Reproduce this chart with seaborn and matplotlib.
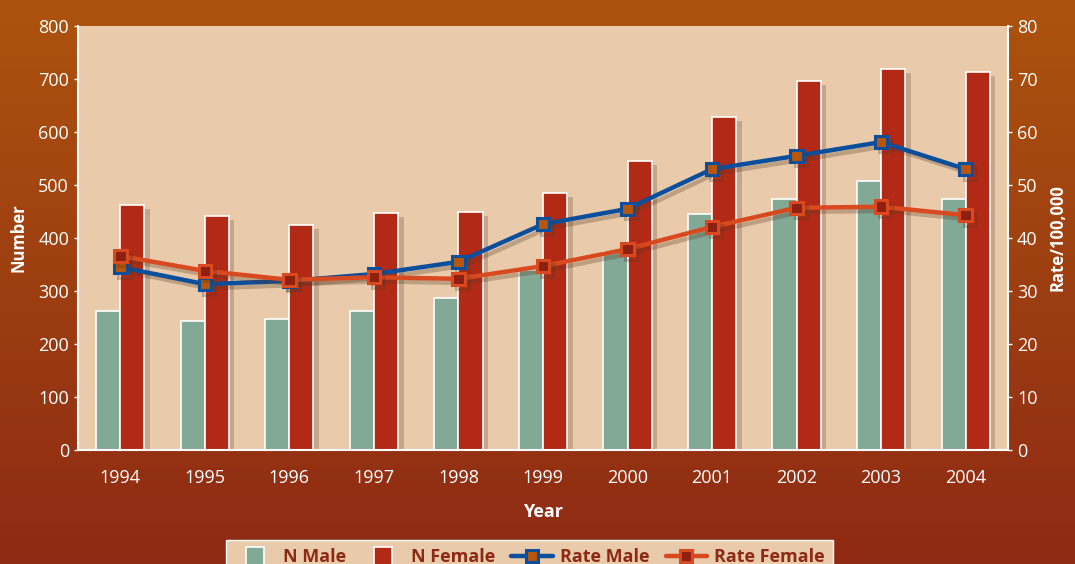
import numpy as np
import pandas as pd
import matplotlib.pyplot as plt
import matplotlib.patheffects as pe
from matplotlib.lines import Line2D
import seaborn as sns

YEARS = ["1994", "1995", "1996", "1997", "1998", "1999", "2000", "2001", "2002", "2003", "2004"]
N_MALE = [262, 243, 247, 262, 287, 340, 374, 445, 474, 508, 474]
N_FEMALE = [462, 441, 425, 447, 450, 485, 545, 628, 696, 719, 713]
RATE_MALE = [34.5, 31.3, 31.9, 33.2, 35.5, 42.6, 45.5, 53.0, 55.5, 58.1, 53.0]
RATE_FEMALE = [36.6, 33.8, 32.1, 32.6, 32.3, 34.7, 37.9, 42.1, 45.7, 45.9, 44.3]

MALE_BAR = "#82A896"
FEMALE_BAR = "#B22A16"
BLUE = "#0A4E9C"
ORANGE = "#D8491F"
PLOT_BG = "#E9CBAB"
TEXT_RED = "#8E2A14"

sns.set_theme(style="white")
plt.rcParams["font.family"] = ["Open Sans", "DejaVu Sans"]

fig = plt.figure(figsize=(10.75, 5.64), dpi=100)

# gradient background
bg = fig.add_axes([0, 0, 1, 1], zorder=-10)
grad = np.linspace(0, 1, 256).reshape(-1, 1)
top = np.array([0xAD, 0x53, 0x0E]) / 255
bot = np.array([0x8E, 0x2A, 0x14]) / 255
img = top[None, None, :] * (1 - grad[..., None]) + bot[None, None, :] * grad[..., None]
bg.imshow(img, aspect="auto", extent=[0, 1, 0, 1])
bg.axis("off")

ax = fig.add_axes([0.0726, 0.2021, 0.865, 0.7518])
ax.set_facecolor(PLOT_BG)

df = pd.DataFrame({
    "year": YEARS * 2,
    "n": N_MALE + N_FEMALE,
    "group": ["N Male"] * len(YEARS) + ["N Female"] * len(YEARS),
})
sns.barplot(data=df, x="year", y="n", hue="group", ax=ax, width=0.57,
            palette={"N Male": MALE_BAR, "N Female": FEMALE_BAR},
            edgecolor="white", linewidth=1.2, saturation=1, legend=False)
for p in ax.patches:
    p.set_path_effects([pe.SimplePatchShadow(offset=(4, -3), shadow_rgbFace="#5a3a20", alpha=0.25),
                        pe.Normal()])

ax.set_ylim(0, 800)
ax.set_xlim(-0.5, len(YEARS) - 0.5)
ax.set_yticks(range(0, 801, 100))
ax.set_xlabel("Year", color="white", fontsize=13, fontweight="bold", labelpad=11)
ax.set_ylabel("Number", color="white", fontsize=12, fontweight="bold", labelpad=8)
ax.tick_params(axis="both", colors="white", labelsize=13, length=3, width=1)
ax.tick_params(axis="x", length=0, pad=14)
for side in ["left", "bottom"]:
    ax.spines[side].set_color("white")
    ax.spines[side].set_linewidth(1.5)
ax.spines["top"].set_visible(False)
ax.spines["right"].set_visible(False)

ax2 = ax.twinx()
xpos = np.arange(len(YEARS))
rates = pd.DataFrame({
    "x": np.concatenate([xpos, xpos]),
    "rate": RATE_MALE + RATE_FEMALE,
    "group": ["Rate Male"] * len(YEARS) + ["Rate Female"] * len(YEARS),
})
shadow = [pe.SimpleLineShadow(offset=(3, -3), shadow_color="#5a3a20", alpha=0.3), pe.Normal()]
for name, color, face in [("Rate Male", BLUE, "#B8560A"), ("Rate Female", ORANGE, "#8E2012")]:
    sub = rates[rates["group"] == name]
    sns.lineplot(data=sub, x="x", y="rate", ax=ax2, color=color, linewidth=3.2,
                 marker="s", markersize=9, markerfacecolor=face, markeredgecolor=color,
                 markeredgewidth=2.2, path_effects=shadow)
ax2.set_ylim(0, 80)
ax2.set_yticks(range(0, 81, 10))
ax2.set_ylabel("Rate/100,000", color="white", fontsize=12, fontweight="bold", labelpad=8)
ax2.set_xlabel("")
ax2.tick_params(axis="y", colors="white", labelsize=13, length=3, width=1)
for side in ["left", "top", "bottom"]:
    ax2.spines[side].set_visible(False)
ax2.spines["right"].set_color("white")
ax2.spines["right"].set_linewidth(1.5)
ax2.set_xlim(-0.5, len(YEARS) - 0.5)

handles = [
    Line2D([0], [0], linestyle="none", marker="s", markersize=13, markerfacecolor=MALE_BAR,
           markeredgecolor="white", markeredgewidth=1.2, label="N Male"),
    Line2D([0], [0], linestyle="none", marker="s", markersize=13, markerfacecolor=FEMALE_BAR,
           markeredgecolor="white", markeredgewidth=1.2, label="N Female"),
    Line2D([0], [0], color=BLUE, linewidth=3.2, marker="s", markersize=9,
           markerfacecolor="#B8560A", markeredgecolor=BLUE, markeredgewidth=2.2, label="Rate Male"),
    Line2D([0], [0], color=ORANGE, linewidth=3.2, marker="s", markersize=9,
           markerfacecolor="#8E2012", markeredgecolor=ORANGE, markeredgewidth=2.2, label="Rate Female"),
]
leg = fig.legend(handles=handles, loc="upper center", bbox_to_anchor=(0.4925, 0.058), ncol=4,
                 frameon=True, fancybox=False, facecolor=PLOT_BG, edgecolor="white",
                 prop={"size": 13, "weight": "bold"}, handlelength=2.3, columnspacing=0.9,
                 handletextpad=0.4, borderpad=0.45, framealpha=1)
for t in leg.get_texts():
    t.set_color(TEXT_RED)

fig.savefig("out.png", dpi=100)
